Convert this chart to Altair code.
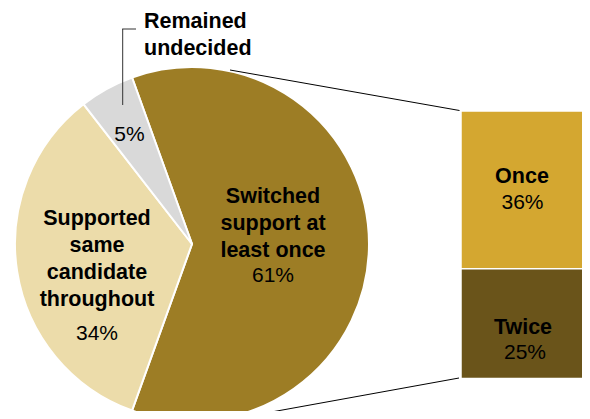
import altair as alt
import pandas as pd

# ---- data ----
pie_cats = ["Switched support at least once", "Supported same candidate throughout", "Remained undecided"]
pie_vals = [61, 34, 5]
pie_colors = ["#9D7D25", "#ECDCAA", "#D9D9D9"]

bar_cats = ["Once", "Twice"]
bar_vals = [36, 25]
bar_colors = ["#D4A730", "#6A541A"]

FONT = "Liberation Sans"
BOLD_SIZE = 21.5
REG_SIZE = 21
LH = 27

pie_df = pd.DataFrame({"pcat": pie_cats, "val": pie_vals, "idx": list(range(len(pie_cats)))})
bar_df = pd.DataFrame({"bcat": bar_cats, "val": bar_vals})
bar_df["end"] = bar_df["val"].cumsum()
bar_df["start"] = bar_df["end"] - bar_df["val"]

one = pd.DataFrame({"a": [0]})

# ---- pie ----
pie = alt.Chart(pie_df).mark_arc(radius=177, stroke="white", strokeWidth=2).encode(
    theta=alt.Theta("val:Q", stack=True,
                    scale=alt.Scale(domain=[0, sum(pie_vals)], range=[-0.3456, 5.9376])),
    color=alt.Color("pcat:N", scale=alt.Scale(domain=pie_cats, range=pie_colors), legend=None),
    order=alt.Order("idx:Q"),
    x=alt.value(184), y=alt.value(236),
)

# ---- stacked bar ----
bars = alt.Chart(bar_df).mark_bar(stroke="white", strokeWidth=1.5).encode(
    x=alt.value(453), x2=alt.value(620),
    y=alt.Y("start:Q", scale=alt.Scale(domain=[0, sum(bar_vals)], range=[103, 370.5]), axis=None),
    y2="end:Q",
    color=alt.Color("bcat:N", scale=alt.Scale(domain=bar_cats, range=bar_colors), legend=None),
)

# ---- lines ----
def seg(x1, y1, x2, y2, w=1, c="black"):
    return alt.Chart(one).mark_rule(color=c, strokeWidth=w).encode(
        x=alt.value(x1), y=alt.value(y1), x2=alt.value(x2), y2=alt.value(y2))

lines = [
    seg(222, 62, 451.5, 102.5),
    seg(222, 411.5, 451, 370),
    seg(114.7, 21, 114.7, 97, c="#333333"),
    seg(114.2, 21, 128, 21, c="#333333"),
]

# ---- text ----
def txt(s, x, y, bold=True, align="center"):
    return alt.Chart(one).mark_text(
        text=s, font=FONT, fontSize=BOLD_SIZE if bold else REG_SIZE,
        fontWeight="bold" if bold else "normal", align=align, baseline="alphabetic",
        lineHeight=LH, color="black",
    ).encode(x=alt.value(x), y=alt.value(y))

pct = [f"{v}%" for v in pie_vals]
bpct = [f"{v}%" for v in bar_vals]

texts = [
    txt(["Switched", "support at", "least once"], 265, 195),
    txt(pct[0], 265, 273.5, bold=False),
    txt(["Supported", "same", "candidate", "throughout"], 89, 217),
    txt(pct[1], 89, 332, bold=False),
    txt(["Remained", "undecided"], 136, 20, align="left"),
    txt(pct[2], 121.5, 132.7, bold=False),
    txt(bar_cats[0], 514, 174.7),
    txt(bpct[0], 514.5, 201, bold=False),
    txt(bar_cats[1], 515, 326),
    txt(bpct[1], 517, 351, bold=False),
]

chart = alt.layer(pie, bars, *lines, *texts).resolve_scale(
    color="independent", y="independent"
).properties(
    width=574, height=403, padding=0, autosize="none"
).configure_view(strokeWidth=0)

chart.save("out.html", embed_options={"renderer": "svg", "actions": False})
